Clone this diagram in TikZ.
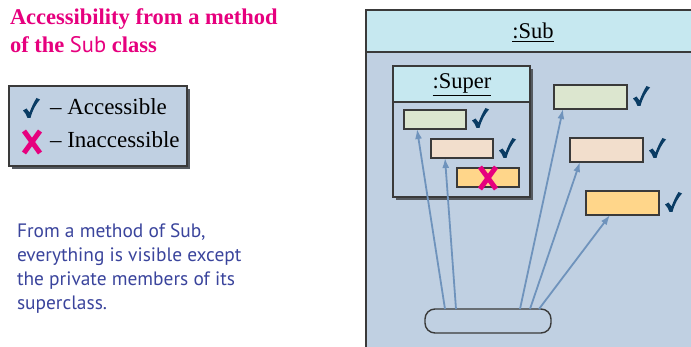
\documentclass[tikz,border=0pt]{standalone}
\usepackage{fontspec}
\setmainfont{Liberation Serif}
\newfontfamily\bodyfont{PT Sans}
\usetikzlibrary{arrows.meta,calc}
\definecolor{subbody}{HTML}{C0D0E2}
\definecolor{subhead}{HTML}{C6E8F0}
\definecolor{mgreen}{HTML}{DCE6CF}
\definecolor{mpeach}{HTML}{F2DECC}
\definecolor{morange}{HTML}{FFD68A}
\definecolor{arrowcol}{HTML}{6F93BC}
\definecolor{chkcol}{HTML}{0A3C64}
\definecolor{xcol}{HTML}{E6007E}
\definecolor{bordercol}{HTML}{3A3A3A}
\definecolor{shadowcol}{HTML}{555A60}
\definecolor{textblue}{HTML}{3A449C}
\tikzset{
  border/.style={draw=bordercol, line width=1.4pt},
  member/.style={border, inner sep=0pt, outer sep=0pt},
  small/.style={member, minimum width=62pt, minimum height=19pt},
  big/.style={member, minimum width=73pt, minimum height=24pt},
  access/.style={arrowcol, line width=1.8pt, -{Latex[length=10pt,width=7pt]}},
  txt/.style={inner sep=0pt, outer sep=0pt, anchor=base west},
  chk/.pic={\fill[chkcol] (0,12.5) -- (3.5,10.5) -- (6.5,14.5) .. controls (9,8) and (11,4) .. (13.5,0) -- (17,1.5) .. controls (13,6) and (9.5,12) .. (7.5,20) -- (4.5,20) .. controls (3.5,17) and (2,14.5) .. (0,12.5) -- cycle;},
  xmk/.pic={\draw[xcol, line width=5pt] (2,2) -- (18,24) (18,2) -- (2,24);}
}
\begin{document}
\begin{tikzpicture}[x=1pt,y=-1pt]
\useasboundingbox (0,0) rectangle (691,347);
% Sub box
\begin{scope}
\clip (0,0) rectangle (691,347);
\fill[subbody] (366,10) rectangle (720,370);
\fill[subhead] (366,10) rectangle (720,52);
\draw[border] (366,370) -- (366,10) -- (720,10);
\draw[border] (366,52) -- (720,52);
\end{scope}
\node[txt, anchor=base] (subtitle) at (533,39) {\fontsize{22.5}{26}\selectfont\underline{:Sub}};
% Super box
\fill[shadowcol] (396,69) rectangle (533,200);
\fill[subbody] (393,66) rectangle (530,197);
\fill[subhead] (393,66) rectangle (530,102);
\draw[border] (393,66) rectangle (530,197);
\draw[border] (393,102) -- (530,102);
\node[txt, anchor=base] (supertitle) at (462,89) {\fontsize{22.5}{26}\selectfont\underline{:Super}};
% members
\node[small, fill=mgreen] (sg) at (435,119.5) {};
\node[small, fill=mpeach] (sp) at (462,148.5) {};
\node[small, fill=morange] (so) at (488,177.5) {};
\node[big, fill=mgreen] (og) at (590.5,97) {};
\node[big, fill=mpeach] (op) at (606.5,150) {};
\node[big, fill=morange] (oo) at (622.5,203) {};
\node[member, fill=subbody, minimum width=126pt, minimum height=24pt, rounded corners=10pt] (m) at (488,321) {};
% checks and cross
\pic at (472,108) {chk};
\pic at (499,138) {chk};
\pic at (633,86) {chk};
\pic at (649,138) {chk};
\pic at (665,192) {chk};
\pic at (478,165) {xmk};
% arrows
\draw[access] ($(m.north west)+(20,0)$) -- ($(sg.south west)+(13,0)$);
\draw[access] ($(m.north west)+(31,0)$) -- ($(sp.south west)+(14,0)$);
\draw[access] ($(m.north west)+(95,0)$) -- ($(og.south west)+(9,0)$);
\draw[access] ($(m.north west)+(105,0)$) -- ($(op.south west)+(10,0)$);
\draw[access] ($(m.north west)+(114,0)$) -- ($(oo.south west)+(24,0)$);
% title
\node[txt, text=xcol] (t1) at (10,25) {\fontsize{22.5}{27}\selectfont\bfseries Accessibility from a method};
\node[txt, text=xcol] (t2) at (10,53) {\fontsize{22.5}{27}\selectfont\bfseries of the {\bodyfont\mdseries Sub} class};
% legend
\fill[shadowcol] (12,89) rectangle (190,169);
\fill[subbody] (9,86) rectangle (187,166);
\draw[border] (9,86) rectangle (187,166);
\pic at (23,98) {chk};
\pic at (22,129) {xmk};
\node[txt] (l1) at (50,115) {\fontsize{23}{26}\selectfont -- Accessible};
\node[txt] (l2) at (50,148) {\fontsize{23}{26}\selectfont -- Inaccessible};
% body text
\node[txt, text=textblue] (b1) at (17,238) {\bodyfont\fontsize{19.4}{24}\selectfont From a method of Sub,};
\node[txt, text=textblue] (b2) at (17,262) {\bodyfont\fontsize{19.4}{24}\selectfont everything is visible except};
\node[txt, text=textblue] (b3) at (17,286) {\bodyfont\fontsize{19.4}{24}\selectfont the private members of its};
\node[txt, text=textblue] (b4) at (17,310) {\bodyfont\fontsize{19.4}{24}\selectfont superclass.};
\end{tikzpicture}
\end{document}
